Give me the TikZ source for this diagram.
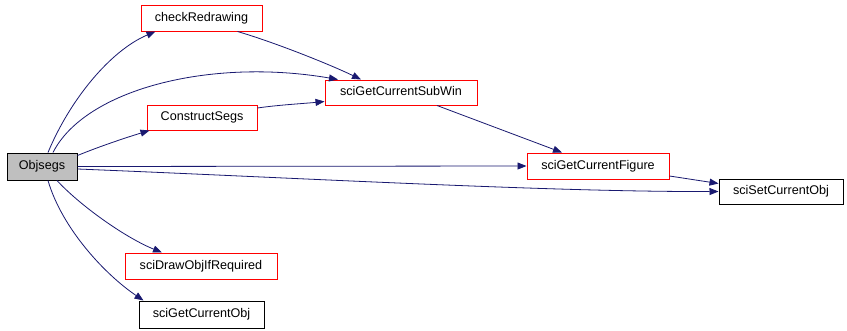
\documentclass[tikz,border=0pt]{standalone}
\usepackage{fontspec}
\setmainfont{Liberation Sans}
\usetikzlibrary{arrows.meta}
\definecolor{edgec}{HTML}{191970}
\definecolor{redb}{HTML}{FF0000}
\definecolor{grayf}{HTML}{BFBFBF}
\begin{document}
\begin{tikzpicture}[x=1pt,y=-1pt,
  fn/.style={draw=black,line width=1pt,fill=white,inner sep=0pt,font=\fontsize{12.6}{14}\selectfont,text height=9.5pt,text depth=2.7pt},
  fnred/.style={fn,draw=redb},
  fnroot/.style={fn,fill=grayf},
  call/.style={draw=edgec,line width=0.8pt,-{Triangle[length=9pt,width=7pt]},fill=none}]
\useasboundingbox[fill=white] (0,0) rectangle (847,330);
\node[fnroot,minimum width=70,minimum height=27] (objsegs) at (42,166.5) {Objsegs};
\node[fnred,minimum width=121,minimum height=26] (check) at (201.5,18) {checkRedrawing};
\node[fnred,minimum width=152,minimum height=25] (subwin) at (401,92.5) {sciGetCurrentSubWin};
\node[fnred,minimum width=110,minimum height=25] (construct) at (202,117.5) {ConstructSegs};
\node[fnred,minimum width=142,minimum height=26] (figure) at (598,166) {sciGetCurrentFigure};
\node[fn,minimum width=124,minimum height=25] (setobj) at (781,191.5) {sciSetCurrentObj};
\node[fnred,minimum width=152,minimum height=26] (drawobj) at (201,266) {sciDrawObjIfRequired};
\node[fn,minimum width=125,minimum height=27] (getobj) at (201.5,314.5) {sciGetCurrentObj};

\draw[call] ([xshift=6pt]objsegs.north) .. controls +(22,-53) and +(-45,19) .. ([xshift=-46pt]check.south);
\draw[call] ([xshift=11pt]objsegs.north) .. controls +(32,-63) and +(-128,-22) .. ([xshift=-63pt]subwin.north);
\draw[call] ([yshift=11pt]objsegs.east) .. controls +(23,-9.5) and +(-20,6) .. ([xshift=3pt]construct.south west);
\draw[call] (objsegs.east) -- (figure.west);
\draw[call] ([yshift=-2.5pt]objsegs.east) .. controls +(223,9) and +(-169,0.5) .. (setobj.west);
\draw[call] ([xshift=15pt]objsegs.south) .. controls +(23,25) and +(-37,-15) .. ([xshift=-39pt]drawobj.north);
\draw[call] ([xshift=6pt]objsegs.south) .. controls +(14,48) and +(-38.5,-26) .. ([xshift=-58pt]getobj.north);
\draw[call] ([xshift=36pt]check.south) .. controls +(37.5,11) and +(-31,-15) .. ([xshift=-40pt]subwin.north);
\draw[call] ([yshift=9.5pt]construct.east) .. controls +(20,-3) and +(-20,2) .. ([yshift=-9pt]subwin.west);
\draw[call] ([xshift=36pt]subwin.south) -- ([xshift=-36pt]figure.north);
\draw[call] ([yshift=-10pt]figure.east) -- ([yshift=8pt]setobj.west);
\end{tikzpicture}
\end{document}
